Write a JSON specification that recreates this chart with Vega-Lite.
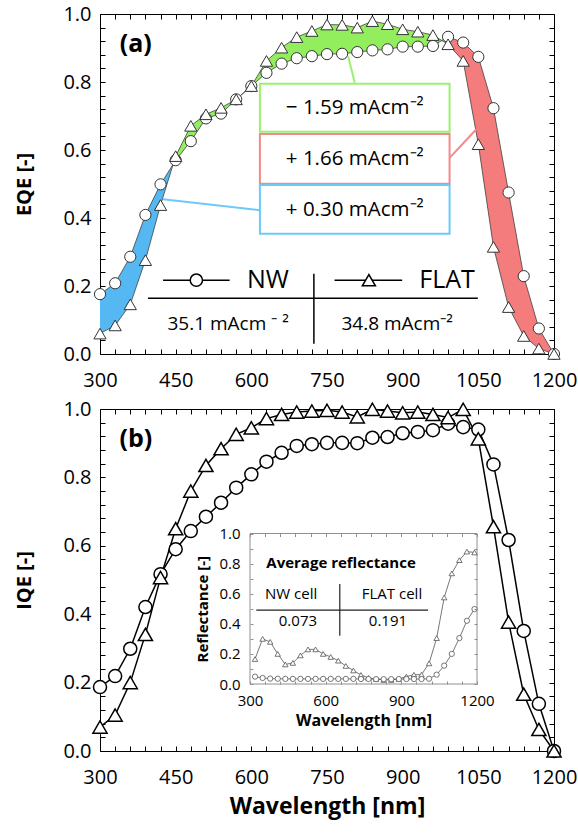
{
  "$schema": "https://vega.github.io/schema/vega-lite/v6.json",
  "background": "white",
  "padding": {"left": 14, "top": 3, "right": 5, "bottom": 5},
  "config": {
    "font": "Open Sans",
    "view": {"stroke": "black", "strokeWidth": 1},
    "axis": {"grid": false, "domain": false, "labelFlush": false, "tickColor": "black", "labelColor": "black", "titleColor": "black", "labelFont": "Open Sans", "titleFont": "Open Sans"},
    "text": {"font": "Open Sans", "color": "black"}
  },
  "datasets": {
    "eqe": [
      {"wl":300,"nw":0.176,"flat":0.060},{"wl":330,"nw":0.208,"flat":0.084},{"wl":360,"nw":0.286,"flat":0.146},
      {"wl":390,"nw":0.409,"flat":0.276},{"wl":420,"nw":0.499,"flat":0.438},{"wl":450,"nw":0.570,"flat":0.582},
      {"wl":480,"nw":0.626,"flat":0.671},{"wl":510,"nw":0.693,"flat":0.705},{"wl":540,"nw":0.707,"flat":0.724},
      {"wl":570,"nw":0.749,"flat":0.749},{"wl":600,"nw":0.788,"flat":0.788},{"wl":630,"nw":0.827,"flat":0.862},
      {"wl":660,"nw":0.854,"flat":0.901},{"wl":690,"nw":0.870,"flat":0.932},{"wl":720,"nw":0.876,"flat":0.950},
      {"wl":750,"nw":0.882,"flat":0.969},{"wl":780,"nw":0.883,"flat":0.968},{"wl":810,"nw":0.888,"flat":0.960},
      {"wl":840,"nw":0.893,"flat":0.979},{"wl":870,"nw":0.896,"flat":0.970},{"wl":900,"nw":0.904,"flat":0.955},
      {"wl":930,"nw":0.904,"flat":0.948},{"wl":960,"nw":0.906,"flat":0.938},{"wl":990,"nw":0.933,"flat":0.911},
      {"wl":1020,"nw":0.916,"flat":0.862},{"wl":1050,"nw":0.874,"flat":0.617},{"wl":1080,"nw":0.723,"flat":0.315},
      {"wl":1110,"nw":0.475,"flat":0.138},{"wl":1140,"nw":0.229,"flat":0.053},{"wl":1170,"nw":0.075,"flat":0.016},
      {"wl":1200,"nw":0.0,"flat":0.0}
    ],
    "iqe": [
      {"wl":300,"nw":0.187,"flat":0.070},{"wl":330,"nw":0.219,"flat":0.105},{"wl":360,"nw":0.299,"flat":0.200},
      {"wl":390,"nw":0.421,"flat":0.341},{"wl":420,"nw":0.517,"flat":0.507},{"wl":450,"nw":0.590,"flat":0.650},
      {"wl":480,"nw":0.643,"flat":0.760},{"wl":510,"nw":0.685,"flat":0.835},{"wl":540,"nw":0.726,"flat":0.884},
      {"wl":570,"nw":0.770,"flat":0.926},{"wl":600,"nw":0.809,"flat":0.945},{"wl":630,"nw":0.846,"flat":0.972},
      {"wl":660,"nw":0.872,"flat":0.984},{"wl":690,"nw":0.892,"flat":0.991},{"wl":720,"nw":0.897,"flat":0.994},
      {"wl":750,"nw":0.901,"flat":0.996},{"wl":780,"nw":0.901,"flat":0.991},{"wl":810,"nw":0.900,"flat":0.977},
      {"wl":840,"nw":0.916,"flat":0.999},{"wl":870,"nw":0.918,"flat":0.994},{"wl":900,"nw":0.929,"flat":0.989},
      {"wl":930,"nw":0.933,"flat":0.991},{"wl":960,"nw":0.938,"flat":0.984},{"wl":990,"nw":0.957,"flat":0.975},
      {"wl":1020,"nw":0.947,"flat":0.999},{"wl":1050,"nw":0.940,"flat":0.913},{"wl":1080,"nw":0.838,"flat":0.656},
      {"wl":1110,"nw":0.617,"flat":0.377},{"wl":1140,"nw":0.351,"flat":0.166},{"wl":1170,"nw":0.138,"flat":0.063},
      {"wl":1200,"nw":0.0,"flat":0.0}
    ],
    "refl": [
      {"wl":320,"nw":0.049,"flat":0.166},{"wl":350,"nw":0.040,"flat":0.300},{"wl":380,"nw":0.036,"flat":0.280},
      {"wl":410,"nw":0.035,"flat":0.200},{"wl":440,"nw":0.034,"flat":0.130},{"wl":470,"nw":0.034,"flat":0.140},
      {"wl":500,"nw":0.034,"flat":0.190},{"wl":530,"nw":0.034,"flat":0.230},{"wl":560,"nw":0.034,"flat":0.230},
      {"wl":590,"nw":0.034,"flat":0.200},{"wl":620,"nw":0.034,"flat":0.180},{"wl":650,"nw":0.034,"flat":0.155},
      {"wl":680,"nw":0.034,"flat":0.120},{"wl":710,"nw":0.034,"flat":0.090},{"wl":740,"nw":0.033,"flat":0.060},
      {"wl":770,"nw":0.033,"flat":0.040},{"wl":800,"nw":0.032,"flat":0.033},{"wl":830,"nw":0.032,"flat":0.027},
      {"wl":860,"nw":0.032,"flat":0.027},{"wl":890,"nw":0.033,"flat":0.033},{"wl":920,"nw":0.033,"flat":0.049},
      {"wl":950,"nw":0.033,"flat":0.062},{"wl":980,"nw":0.033,"flat":0.062},{"wl":1010,"nw":0.035,"flat":0.137},
      {"wl":1040,"nw":0.062,"flat":0.305},{"wl":1070,"nw":0.122,"flat":0.575},{"wl":1100,"nw":0.200,"flat":0.735},
      {"wl":1130,"nw":0.305,"flat":0.823},{"wl":1160,"nw":0.420,"flat":0.880},{"wl":1190,"nw":0.498,"flat":0.874}
    ]
  },
  "bounds": "flush",
  "spacing": 55,
  "vconcat": [
    {
      "width": 454,
      "height": 340,
      "data": {"name": "eqe"},
      "resolve": {"axis": {"x": "independent", "y": "independent"}},
      "layer": [
        {
          "transform": [{"filter": "datum.wl <= 450"}],
          "mark": {"type": "area", "color": "#55B8F2", "opacity": 1},
          "encoding": {
            "x": {"field": "wl", "type": "quantitative", "scale": {"domain": [300, 1200], "nice": false, "zero": false},
              "axis": {"orient": "bottom", "values": [300,330,360,390,420,450,480,510,540,570,600,630,660,690,720,750,780,810,840,870,900,930,960,990,1020,1050,1080,1110,1140,1170,1200], "format": "d", "labelExpr": "datum.value % 150 === 0 ? datum.label : ''", "tickSize": -5, "labelFontSize": 20, "labelPadding": 21, "title": null}},
            "y": {"field": "nw", "type": "quantitative", "scale": {"domain": [0, 1], "nice": false, "zero": false},
              "axis": {"orient": "left", "values": [0,0.04,0.08,0.12,0.16,0.2,0.24,0.28,0.32,0.36,0.4,0.44,0.48,0.52,0.56,0.6,0.64,0.68,0.72,0.76,0.8,0.84,0.88,0.92,0.96,1], "format": ".1f", "labelExpr": "abs(datum.value*5 - round(datum.value*5)) < 0.001 ? datum.label : ''", "tickSize": -5, "labelFontSize": 20, "labelPadding": 14, "title": "EQE [-]", "titleFontSize": 20, "titleFontWeight": "bold", "titlePadding": 28}},
            "y2": {"field": "flat"}
          }
        },
        {
          "transform": [{"filter": "datum.wl >= 450 && datum.wl <= 990"}],
          "mark": {"type": "area", "color": "#92EE5C", "opacity": 1},
          "encoding": {
            "x": {"field": "wl", "type": "quantitative",
              "axis": {"orient": "top", "values": [300,330,360,390,420,450,480,510,540,570,600,630,660,690,720,750,780,810,840,870,900,930,960,990,1020,1050,1080,1110,1140,1170,1200], "labels": false, "tickSize": -5, "title": null}},
            "y": {"field": "nw", "type": "quantitative",
              "axis": {"orient": "right", "values": [0,0.04,0.08,0.12,0.16,0.2,0.24,0.28,0.32,0.36,0.4,0.44,0.48,0.52,0.56,0.6,0.64,0.68,0.72,0.76,0.8,0.84,0.88,0.92,0.96,1], "labels": false, "tickSize": -5, "title": null}},
            "y2": {"field": "flat"}
          }
        },
        {
          "transform": [{"filter": "datum.wl >= 990"}],
          "mark": {"type": "area", "color": "#F47C7C", "opacity": 1},
          "encoding": {
            "x": {"field": "wl", "type": "quantitative", "axis": null},
            "y": {"field": "nw", "type": "quantitative", "axis": null},
            "y2": {"field": "flat"}
          }
        },
        {
          "mark": {"type": "line", "color": "#404040", "strokeWidth": 0.8},
          "encoding": {"x": {"field": "wl", "type": "quantitative", "axis": null}, "y": {"field": "nw", "type": "quantitative", "axis": null}}
        },
        {
          "mark": {"type": "line", "color": "#404040", "strokeWidth": 0.8},
          "encoding": {"x": {"field": "wl", "type": "quantitative", "axis": null}, "y": {"field": "flat", "type": "quantitative", "axis": null}}
        },
        {
          "mark": {"type": "point", "shape": "circle", "filled": true, "fill": "white", "stroke": "#333333", "strokeWidth": 1, "size": 125, "opacity": 1},
          "encoding": {"x": {"field": "wl", "type": "quantitative", "axis": null}, "y": {"field": "nw", "type": "quantitative", "axis": null}}
        },
        {
          "mark": {"type": "point", "shape": "triangle-up", "filled": true, "fill": "white", "stroke": "#333333", "strokeWidth": 1, "size": 150, "opacity": 1},
          "encoding": {"x": {"field": "wl", "type": "quantitative", "axis": null}, "y": {"field": "flat", "type": "quantitative", "axis": null}}
        },
        {
          "data": {"values": [{"t": "(a)"}]},
          "mark": {"type": "text", "fontSize": 25, "fontWeight": "bold", "align": "center", "baseline": "middle"},
          "encoding": {"x": {"datum": 371, "type": "quantitative", "axis": null}, "y": {"datum": 0.912, "type": "quantitative", "axis": null}, "text": {"field": "t"}}
        },
        {
          "data": {"values": [{"c": "green"}]},
          "mark": {"type": "rule", "color": "#9CF070", "strokeWidth": 2},
          "encoding": {"x": {"datum": 805, "type": "quantitative", "axis": null}, "x2": {"datum": 792}, "y": {"datum": 0.798, "type": "quantitative", "axis": null}, "y2": {"datum": 0.876}}
        },
        {
          "data": {"values": [{"c": "red"}]},
          "mark": {"type": "rule", "color": "#F28A8A", "strokeWidth": 2},
          "encoding": {"x": {"datum": 993, "type": "quantitative", "axis": null}, "x2": {"datum": 1046}, "y": {"datum": 0.577, "type": "quantitative", "axis": null}, "y2": {"datum": 0.661}}
        },
        {
          "data": {"values": [{"c": "blue"}]},
          "mark": {"type": "rule", "color": "#6CCAF8", "strokeWidth": 2},
          "encoding": {"x": {"datum": 425, "type": "quantitative", "axis": null}, "x2": {"datum": 617}, "y": {"datum": 0.455, "type": "quantitative", "axis": null}, "y2": {"datum": 0.423}}
        },
        {
          "data": {"values": [{"c": "green"}]},
          "mark": {"type": "rect", "fill": "white", "stroke": "#9CF070", "strokeWidth": 2},
          "encoding": {"x": {"datum": 617, "type": "quantitative", "axis": null}, "x2": {"datum": 993}, "y": {"datum": 0.795, "type": "quantitative", "axis": null}, "y2": {"datum": 0.654}}
        },
        {
          "data": {"values": [{"c": "red"}]},
          "mark": {"type": "rect", "fill": "white", "stroke": "#F28A8A", "strokeWidth": 2},
          "encoding": {"x": {"datum": 617, "type": "quantitative", "axis": null}, "x2": {"datum": 993}, "y": {"datum": 0.647, "type": "quantitative", "axis": null}, "y2": {"datum": 0.501}}
        },
        {
          "data": {"values": [{"c": "blue"}]},
          "mark": {"type": "rect", "fill": "white", "stroke": "#6CCAF8", "strokeWidth": 2},
          "encoding": {"x": {"datum": 617, "type": "quantitative", "axis": null}, "x2": {"datum": 993}, "y": {"datum": 0.497, "type": "quantitative", "axis": null}, "y2": {"datum": 0.354}}
        },
        {
          "data": {"values": [{"t": "− 1.59 mAcm⁻²"}]},
          "mark": {"type": "text", "fontSize": 20.5, "align": "center", "baseline": "middle"},
          "encoding": {"x": {"datum": 805, "type": "quantitative", "axis": null}, "y": {"datum": 0.724, "type": "quantitative", "axis": null}, "text": {"field": "t"}}
        },
        {
          "data": {"values": [{"t": "+ 1.66 mAcm⁻²"}]},
          "mark": {"type": "text", "fontSize": 20.5, "align": "center", "baseline": "middle"},
          "encoding": {"x": {"datum": 805, "type": "quantitative", "axis": null}, "y": {"datum": 0.574, "type": "quantitative", "axis": null}, "text": {"field": "t"}}
        },
        {
          "data": {"values": [{"t": "+ 0.30 mAcm⁻²"}]},
          "mark": {"type": "text", "fontSize": 20.5, "align": "center", "baseline": "middle"},
          "encoding": {"x": {"datum": 805, "type": "quantitative", "axis": null}, "y": {"datum": 0.425, "type": "quantitative", "axis": null}, "text": {"field": "t"}}
        },
        {
          "data": {"values": [{"s": "NW"}]},
          "mark": {"type": "rule", "color": "black", "strokeWidth": 1.5},
          "encoding": {"x": {"datum": 425, "type": "quantitative", "axis": null}, "x2": {"datum": 557}, "y": {"datum": 0.217, "type": "quantitative", "axis": null}}
        },
        {
          "data": {"values": [{"s": "FLAT"}]},
          "mark": {"type": "rule", "color": "black", "strokeWidth": 1.5},
          "encoding": {"x": {"datum": 765, "type": "quantitative", "axis": null}, "x2": {"datum": 899}, "y": {"datum": 0.217, "type": "quantitative", "axis": null}}
        },
        {
          "data": {"values": [{"s": "table"}]},
          "mark": {"type": "rule", "color": "black", "strokeWidth": 1.5},
          "encoding": {"x": {"datum": 395, "type": "quantitative", "axis": null}, "x2": {"datum": 1049}, "y": {"datum": 0.164, "type": "quantitative", "axis": null}}
        },
        {
          "data": {"values": [{"s": "table"}]},
          "mark": {"type": "rule", "color": "black", "strokeWidth": 1.5},
          "encoding": {"x": {"datum": 724, "type": "quantitative", "axis": null}, "y": {"datum": 0.236, "type": "quantitative", "axis": null}, "y2": {"datum": 0.03}}
        },
        {
          "data": {"values": [{"s": "NW"}]},
          "mark": {"type": "point", "shape": "circle", "filled": true, "fill": "white", "stroke": "black", "strokeWidth": 1.5, "size": 150, "opacity": 1},
          "encoding": {"x": {"datum": 491, "type": "quantitative", "axis": null}, "y": {"datum": 0.217, "type": "quantitative", "axis": null}}
        },
        {
          "data": {"values": [{"s": "FLAT"}]},
          "mark": {"type": "point", "shape": "triangle-up", "filled": true, "fill": "white", "stroke": "black", "strokeWidth": 1.5, "size": 170, "opacity": 1},
          "encoding": {"x": {"datum": 833, "type": "quantitative", "axis": null}, "y": {"datum": 0.217, "type": "quantitative", "axis": null}}
        },
        {
          "data": {"values": [{"t": "NW"}]},
          "mark": {"type": "text", "fontSize": 25, "align": "center", "baseline": "middle"},
          "encoding": {"x": {"datum": 633, "type": "quantitative", "axis": null}, "y": {"datum": 0.217, "type": "quantitative", "axis": null}, "text": {"field": "t"}}
        },
        {
          "data": {"values": [{"t": "FLAT"}]},
          "mark": {"type": "text", "fontSize": 25, "align": "center", "baseline": "middle"},
          "encoding": {"x": {"datum": 988, "type": "quantitative", "axis": null}, "y": {"datum": 0.217, "type": "quantitative", "axis": null}, "text": {"field": "t"}}
        },
        {
          "data": {"values": [{"t": "35.1 mAcm ⁻ ²"}]},
          "mark": {"type": "text", "fontSize": 19, "align": "center", "baseline": "middle"},
          "encoding": {"x": {"datum": 554, "type": "quantitative", "axis": null}, "y": {"datum": 0.087, "type": "quantitative", "axis": null}, "text": {"field": "t"}}
        },
        {
          "data": {"values": [{"t": "34.8 mAcm⁻²"}]},
          "mark": {"type": "text", "fontSize": 19, "align": "center", "baseline": "middle"},
          "encoding": {"x": {"datum": 889, "type": "quantitative", "axis": null}, "y": {"datum": 0.087, "type": "quantitative", "axis": null}, "text": {"field": "t"}}
        }
      ]
    },
    {
      "width": 454,
      "height": 342,
      "resolve": {"scale": {"x": "independent", "y": "independent"}, "axis": {"x": "independent", "y": "independent"}},
      "layer": [
        {
          "data": {"name": "iqe"},
          "resolve": {"axis": {"x": "independent", "y": "independent"}},
          "layer": [
            {
              "mark": {"type": "line", "color": "black", "strokeWidth": 1.5},
              "encoding": {
                "x": {"field": "wl", "type": "quantitative", "scale": {"domain": [300, 1200], "nice": false, "zero": false},
                  "axis": {"orient": "bottom", "values": [300,330,360,390,420,450,480,510,540,570,600,630,660,690,720,750,780,810,840,870,900,930,960,990,1020,1050,1080,1110,1140,1170,1200], "format": "d", "labelExpr": "datum.value % 150 === 0 ? datum.label : ''", "tickSize": -5, "labelFontSize": 20, "labelPadding": 21, "title": "Wavelength [nm]", "titleFontSize": 23, "titleFontWeight": "bold", "titlePadding": 8}},
                "y": {"field": "nw", "type": "quantitative", "scale": {"domain": [0, 1], "nice": false, "zero": false},
                  "axis": {"orient": "left", "values": [0,0.04,0.08,0.12,0.16,0.2,0.24,0.28,0.32,0.36,0.4,0.44,0.48,0.52,0.56,0.6,0.64,0.68,0.72,0.76,0.8,0.84,0.88,0.92,0.96,1], "format": ".1f", "labelExpr": "abs(datum.value*5 - round(datum.value*5)) < 0.001 ? datum.label : ''", "tickSize": -5, "labelFontSize": 20, "labelPadding": 14, "title": "IQE [-]", "titleFontSize": 20, "titleFontWeight": "bold", "titlePadding": 28}}
              }
            },
            {
              "mark": {"type": "line", "color": "black", "strokeWidth": 1.5},
              "encoding": {
                "x": {"field": "wl", "type": "quantitative",
                  "axis": {"orient": "top", "values": [300,330,360,390,420,450,480,510,540,570,600,630,660,690,720,750,780,810,840,870,900,930,960,990,1020,1050,1080,1110,1140,1170,1200], "labels": false, "tickSize": -5, "title": null}},
                "y": {"field": "flat", "type": "quantitative",
                  "axis": {"orient": "right", "values": [0,0.04,0.08,0.12,0.16,0.2,0.24,0.28,0.32,0.36,0.4,0.44,0.48,0.52,0.56,0.6,0.64,0.68,0.72,0.76,0.8,0.84,0.88,0.92,0.96,1], "labels": false, "tickSize": -5, "title": null}}
              }
            },
            {
              "mark": {"type": "point", "shape": "circle", "filled": true, "fill": "white", "stroke": "black", "strokeWidth": 1.5, "size": 170, "opacity": 1},
              "encoding": {"x": {"field": "wl", "type": "quantitative", "axis": null}, "y": {"field": "nw", "type": "quantitative", "axis": null}}
            },
            {
              "mark": {"type": "point", "shape": "triangle-up", "filled": true, "fill": "white", "stroke": "black", "strokeWidth": 1.5, "size": 200, "opacity": 1},
              "encoding": {"x": {"field": "wl", "type": "quantitative", "axis": null}, "y": {"field": "flat", "type": "quantitative", "axis": null}}
            },
            {
              "data": {"values": [{"t": "(b)"}]},
              "mark": {"type": "text", "fontSize": 25, "fontWeight": "bold", "align": "center", "baseline": "middle"},
              "encoding": {"x": {"datum": 371, "type": "quantitative", "axis": null}, "y": {"datum": 0.912, "type": "quantitative", "axis": null}, "text": {"field": "t"}}
            }
          ]
        },
        {
          "data": {"name": "refl"},
          "resolve": {"axis": {"x": "independent", "y": "independent"}},
          "layer": [
            {
              "data": {"values": [{"f": "frame"}]},
              "mark": {"type": "rect", "fill": "white", "stroke": "#909090", "strokeWidth": 1},
              "encoding": {
                "x": {"datum": 300, "type": "quantitative", "scale": {"domain": [300, 1200], "range": [150, 377], "nice": false, "zero": false},
                  "axis": {"orient": "bottom", "offset": -67, "zindex": 1, "values": [300,360,420,480,540,600,660,720,780,840,900,960,1020,1080,1140,1200], "format": "d", "labelExpr": "datum.value % 300 === 0 ? datum.label : ''", "tickSize": -3, "tickColor": "#909090", "labelFontSize": 15, "labelPadding": 12, "title": "Wavelength [nm]", "titleFontSize": 16, "titleFontWeight": "bold", "titlePadding": 4}},
                "x2": {"datum": 1200},
                "y": {"datum": 0, "type": "quantitative", "scale": {"domain": [0, 1], "range": [275, 124.5], "nice": false, "zero": false},
                  "axis": {"orient": "left", "offset": -150, "zindex": 1, "values": [0,0.1,0.2,0.3,0.4,0.5,0.6,0.7,0.8,0.9,1], "format": ".1f", "labelExpr": "abs(datum.value*5 - round(datum.value*5)) < 0.001 ? datum.label : ''", "tickSize": -3, "tickColor": "#909090", "labelFontSize": 15, "labelPadding": 13, "title": "Reflectance [-]", "titleFontSize": 15, "titleFontWeight": "bold", "titlePadding": 8}},
                "y2": {"datum": 1}
              }
            },
            {
              "mark": {"type": "line", "color": "#555555", "strokeWidth": 0.8},
              "encoding": {
                "x": {"field": "wl", "type": "quantitative",
                  "axis": {"orient": "top", "offset": -124.5, "zindex": 1, "values": [300,360,420,480,540,600,660,720,780,840,900,960,1020,1080,1140,1200], "labels": false, "tickSize": -3, "tickColor": "#909090", "title": null}},
                "y": {"field": "flat", "type": "quantitative",
                  "axis": {"orient": "right", "offset": -77, "zindex": 1, "values": [0,0.1,0.2,0.3,0.4,0.5,0.6,0.7,0.8,0.9,1], "labels": false, "tickSize": -3, "tickColor": "#909090", "title": null}}
              }
            },
            {
              "mark": {"type": "line", "color": "#555555", "strokeWidth": 0.8},
              "encoding": {"x": {"field": "wl", "type": "quantitative", "axis": null}, "y": {"field": "nw", "type": "quantitative", "axis": null}}
            },
            {
              "mark": {"type": "point", "shape": "triangle-up", "filled": true, "fill": "white", "stroke": "#555555", "strokeWidth": 0.8, "size": 30, "opacity": 1},
              "encoding": {"x": {"field": "wl", "type": "quantitative", "axis": null}, "y": {"field": "flat", "type": "quantitative", "axis": null}}
            },
            {
              "mark": {"type": "point", "shape": "circle", "filled": true, "fill": "white", "stroke": "#555555", "strokeWidth": 0.8, "size": 28, "opacity": 1},
              "encoding": {"x": {"field": "wl", "type": "quantitative", "axis": null}, "y": {"field": "nw", "type": "quantitative", "axis": null}}
            },
            {
              "data": {"values": [{"t": "Average reflectance"}]},
              "mark": {"type": "text", "fontSize": 15, "fontWeight": "bold", "align": "center", "baseline": "middle"},
              "encoding": {"x": {"datum": 661, "type": "quantitative", "axis": null}, "y": {"datum": 0.807, "type": "quantitative", "axis": null}, "text": {"field": "t"}}
            },
            {
              "data": {"values": [{"t": "NW cell"}]},
              "mark": {"type": "text", "fontSize": 15, "align": "center", "baseline": "middle"},
              "encoding": {"x": {"datum": 463, "type": "quantitative", "axis": null}, "y": {"datum": 0.598, "type": "quantitative", "axis": null}, "text": {"field": "t"}}
            },
            {
              "data": {"values": [{"t": "FLAT cell"}]},
              "mark": {"type": "text", "fontSize": 15, "align": "center", "baseline": "middle"},
              "encoding": {"x": {"datum": 863, "type": "quantitative", "axis": null}, "y": {"datum": 0.598, "type": "quantitative", "axis": null}, "text": {"field": "t"}}
            },
            {
              "data": {"values": [{"t": "0.073"}]},
              "mark": {"type": "text", "fontSize": 15, "align": "center", "baseline": "middle"},
              "encoding": {"x": {"datum": 490, "type": "quantitative", "axis": null}, "y": {"datum": 0.42, "type": "quantitative", "axis": null}, "text": {"field": "t"}}
            },
            {
              "data": {"values": [{"t": "0.191"}]},
              "mark": {"type": "text", "fontSize": 15, "align": "center", "baseline": "middle"},
              "encoding": {"x": {"datum": 847, "type": "quantitative", "axis": null}, "y": {"datum": 0.42, "type": "quantitative", "axis": null}, "text": {"field": "t"}}
            },
            {
              "data": {"values": [{"s": "table"}]},
              "mark": {"type": "rule", "color": "#222222", "strokeWidth": 1.2},
              "encoding": {"x": {"datum": 325, "type": "quantitative", "axis": null}, "x2": {"datum": 1006}, "y": {"datum": 0.491, "type": "quantitative", "axis": null}}
            },
            {
              "data": {"values": [{"s": "table"}]},
              "mark": {"type": "rule", "color": "#222222", "strokeWidth": 1.2},
              "encoding": {"x": {"datum": 656, "type": "quantitative", "axis": null}, "y": {"datum": 0.664, "type": "quantitative", "axis": null}, "y2": {"datum": 0.321}}
            }
          ]
        }
      ]
    }
  ]
}
